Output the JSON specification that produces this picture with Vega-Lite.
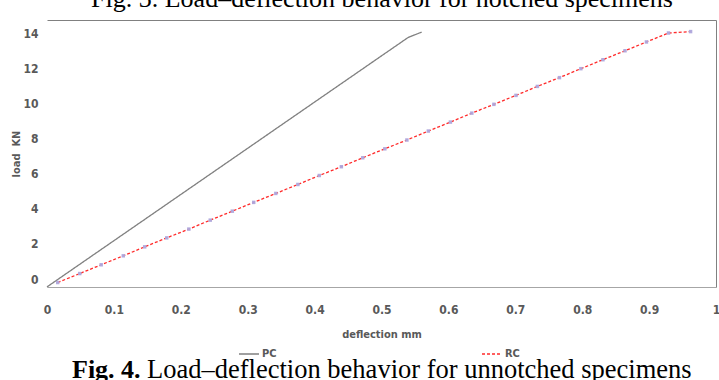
{
  "$schema": "https://vega.github.io/schema/vega-lite/v6.json",
  "width": 669,
  "height": 267,
  "autosize": {"type": "none"},
  "padding": {"left": 47, "top": 20, "right": 3, "bottom": 93},
  "background": "white",
  "config": {
    "view": {"stroke": null},
    "font": "DejaVu Sans Condensed, sans-serif",
    "legend": {
      "title": null,
      "orient": "none",
      "legendX": 191,
      "legendY": 323,
      "direction": "horizontal",
      "symbolType": "stroke",
      "symbolSize": 400,
      "symbolStrokeWidth": 1.3,
      "columnPadding": 202,
      "labelFont": "DejaVu Sans Condensed, sans-serif",
      "labelFontSize": 11,
      "labelFontWeight": "bold",
      "labelColor": "#595959",
      "labelOffset": 2
    }
  },
  "title": {
    "text": "Fig. 4.",
    "subtitle": "\u200b\u00a0\u00a0\u00a0\u00a0\u00a0\u00a0\u00a0\u00a0\u00a0\u00a0\u00a0\u200aLoad–deflection behavior for unnotched specimens",
    "orient": "bottom",
    "anchor": "start",
    "frame": "group",
    "dx": 25,
    "offset": -2,
    "font": "Liberation Serif",
    "fontSize": 26,
    "fontWeight": "bold",
    "color": "#000000",
    "subtitleFont": "Liberation Serif",
    "subtitleFontSize": 26.5,
    "subtitleFontWeight": "normal",
    "subtitleColor": "#000000",
    "subtitlePadding": -26
  },
  "data": {
    "values": [
      {"series": "PC", "deflection": 0.0, "load": -0.45},
      {"series": "PC", "deflection": 0.1, "load": 2.18},
      {"series": "PC", "deflection": 0.2, "load": 4.81},
      {"series": "PC", "deflection": 0.3, "load": 7.44},
      {"series": "PC", "deflection": 0.4, "load": 10.07},
      {"series": "PC", "deflection": 0.5, "load": 12.7},
      {"series": "PC", "deflection": 0.54, "load": 13.75},
      {"series": "PC", "deflection": 0.56, "load": 14.05},
      {"series": "RC", "deflection": 0.016, "load": -0.2},
      {"series": "RC", "deflection": 0.049, "load": 0.31},
      {"series": "RC", "deflection": 0.081, "load": 0.81},
      {"series": "RC", "deflection": 0.114, "load": 1.32},
      {"series": "RC", "deflection": 0.146, "load": 1.83},
      {"series": "RC", "deflection": 0.179, "load": 2.34},
      {"series": "RC", "deflection": 0.212, "load": 2.84},
      {"series": "RC", "deflection": 0.244, "load": 3.35},
      {"series": "RC", "deflection": 0.277, "load": 3.86},
      {"series": "RC", "deflection": 0.309, "load": 4.36},
      {"series": "RC", "deflection": 0.342, "load": 4.87},
      {"series": "RC", "deflection": 0.375, "load": 5.38},
      {"series": "RC", "deflection": 0.407, "load": 5.89},
      {"series": "RC", "deflection": 0.44, "load": 6.39},
      {"series": "RC", "deflection": 0.472, "load": 6.9},
      {"series": "RC", "deflection": 0.505, "load": 7.41},
      {"series": "RC", "deflection": 0.538, "load": 7.91},
      {"series": "RC", "deflection": 0.57, "load": 8.42},
      {"series": "RC", "deflection": 0.603, "load": 8.93},
      {"series": "RC", "deflection": 0.635, "load": 9.44},
      {"series": "RC", "deflection": 0.668, "load": 9.94},
      {"series": "RC", "deflection": 0.701, "load": 10.45},
      {"series": "RC", "deflection": 0.733, "load": 10.96},
      {"series": "RC", "deflection": 0.766, "load": 11.46},
      {"series": "RC", "deflection": 0.798, "load": 11.97},
      {"series": "RC", "deflection": 0.831, "load": 12.48},
      {"series": "RC", "deflection": 0.864, "load": 12.99},
      {"series": "RC", "deflection": 0.896, "load": 13.49},
      {"series": "RC", "deflection": 0.929, "load": 14.0},
      {"series": "RC", "deflection": 0.962, "load": 14.08}
    ]
  },
  "layer": [
    {
      "mark": {"type": "line", "strokeWidth": 1.3, "clip": false},
      "encoding": {
        "x": {
          "field": "deflection",
          "type": "quantitative",
          "scale": {"domain": [0, 1], "nice": false, "zero": false},
          "axis": {
            "orient": "bottom",
            "values": [0, 0.1, 0.2, 0.3, 0.4, 0.5, 0.6, 0.7, 0.8, 0.9, 1],
            "format": "~g",
            "grid": false,
            "ticks": false,
            "domain": true,
            "domainColor": "#a6a6a6",
            "domainWidth": 1,
            "labelPadding": 17,
            "labelFontSize": 12,
            "labelFontWeight": "bold",
            "labelColor": "#595959",
            "labelFlush": false,
            "labelOverlap": false,
            "title": "deflection mm",
            "titleFontSize": 11,
            "titleFontWeight": "bold",
            "titleColor": "#595959",
            "titlePadding": 13
          }
        },
        "y": {
          "field": "load",
          "type": "quantitative",
          "scale": {"domain": [-0.455, 14.74], "nice": false, "zero": false},
          "axis": {
            "orient": "left",
            "values": [0, 2, 4, 6, 8, 10, 12, 14],
            "grid": false,
            "ticks": false,
            "domain": false,
            "labelPadding": 9,
            "labelFontSize": 12,
            "labelFontWeight": "bold",
            "labelColor": "#595959",
            "title": "load\u00a0\u00a0KN",
            "titleFontSize": 11,
            "titleFontWeight": "bold",
            "titleColor": "#595959",
            "titlePadding": 1
          }
        },
        "color": {
          "field": "series",
          "type": "nominal",
          "scale": {"domain": ["PC", "RC"], "range": ["#808080", "#ff2a2a"]}
        },
        "strokeDash": {
          "field": "series",
          "type": "nominal",
          "scale": {"domain": ["PC", "RC"], "range": [[1, 0], [3, 2]]}
        }
      }
    },
    {
      "transform": [{"filter": "datum.series === 'RC'"}],
      "mark": {"type": "square", "size": 12, "color": "#aea6dc", "opacity": 0.95, "clip": false},
      "encoding": {
        "x": {
          "field": "deflection",
          "type": "quantitative",
          "axis": {
            "orient": "top",
            "labels": false,
            "ticks": false,
            "grid": false,
            "domain": true,
            "domainColor": "#808080",
            "title": "Fig. 3. Load–deflection behavior for notched specimens",
            "titleFont": "Liberation Serif",
            "titleFontSize": 26,
            "titleFontWeight": "normal",
            "titleColor": "#000000",
            "titleBaseline": "alphabetic",
            "titlePadding": 14
          }
        },
        "y": {
          "field": "load",
          "type": "quantitative",
          "axis": {
            "orient": "right",
            "labels": false,
            "ticks": false,
            "grid": false,
            "domain": true,
            "domainColor": "#808080",
            "title": null
          }
        }
      }
    }
  ],
  "resolve": {"axis": {"x": "independent", "y": "independent"}}
}
